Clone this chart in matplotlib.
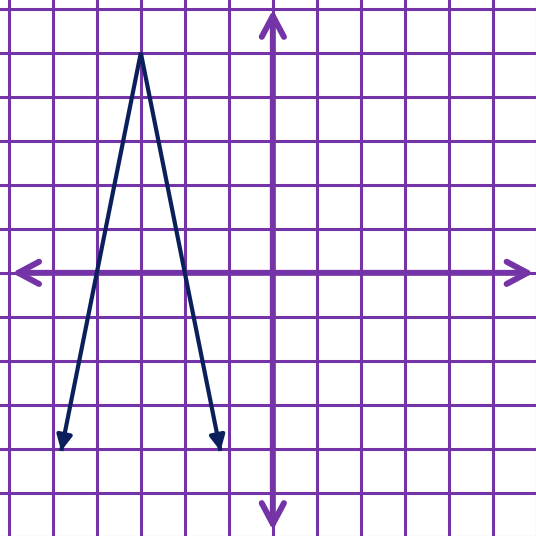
import matplotlib
matplotlib.use("Agg")
import matplotlib.pyplot as plt
import numpy as np

# --- Data ---
# points of y = -5|x + 3| + 5, ends carry arrowheads
curve_x = [-4.8, -3, -1.2]
curve_y = [-4, 5, -4]
grid_ticks = np.arange(-6, 7)

# --- Style ---
GRID_COLOR = "#7434a8"
CURVE_COLOR = "#0a1f5c"

fig = plt.figure(figsize=(5.36, 5.36), dpi=100)
ax = fig.add_axes([0, 0, 1, 1])
ax.set_xlim(-6.2, 5.98)
ax.set_ylim(-5.98, 6.2)
ax.axis("off")

# grid
for t in grid_ticks:
    ax.axvline(t, color=GRID_COLOR, lw=2.2, zorder=1)
    ax.axhline(t, color=GRID_COLOR, lw=2.2, zorder=1)

# axes with open chevron heads
axis_style = dict(arrowstyle="<->,head_length=1.5,head_width=0.8",
                  color=GRID_COLOR, lw=4.3, capstyle="round",
                  joinstyle="round", shrinkA=0, shrinkB=0)
ax.annotate("", xy=(5.93, 0), xytext=(-5.93, 0), arrowprops=axis_style, zorder=2)
ax.annotate("", xy=(0, 5.98), xytext=(0, -5.85), arrowprops=axis_style, zorder=2)

# the absolute value graph
ax.plot(curve_x, curve_y, color=CURVE_COLOR, lw=3, solid_joinstyle="miter",
        zorder=3)
head = dict(arrowstyle="-|>,head_length=0.9,head_width=0.45",
            color=CURVE_COLOR, lw=3, shrinkA=0, shrinkB=0)
for i in (0, -1):
    j = 1 if i == 0 else -2
    dx = curve_x[i] - curve_x[j]
    dy = curve_y[i] - curve_y[j]
    n = np.hypot(dx, dy)
    ax.annotate("", xy=(curve_x[i] + 0.05 * dx / n, curve_y[i] + 0.05 * dy / n),
                xytext=(curve_x[i] - 0.3 * dx / n, curve_y[i] - 0.3 * dy / n),
                arrowprops=head, zorder=4)

fig.savefig("out.png", dpi=100)
